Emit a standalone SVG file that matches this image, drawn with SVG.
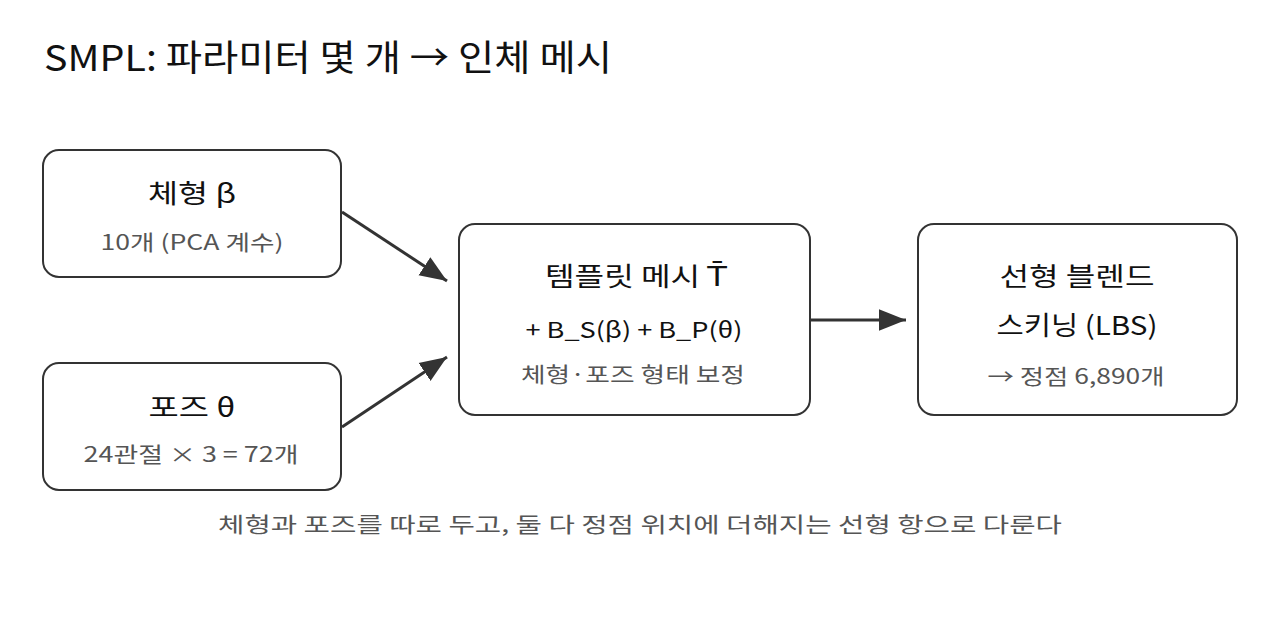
<svg xmlns="http://www.w3.org/2000/svg" width="1280" height="640" viewBox="0 0 1280 640">
<style>
text{font-family:"Noto Sans CJK KR","Noto Sans",sans-serif;text-anchor:middle}
.title{font-size:36px;fill:#111;text-anchor:start}
.main{font-size:26px;fill:#111}
.sub{font-size:21px;fill:#555}
.box{fill:#fff;stroke:#333;stroke-width:2}
.conn{stroke:#333;stroke-width:3;fill:none}
.tb{font-family:"DejaVu Sans",sans-serif}
</style>
<defs>
<marker id="arrow" viewBox="0 0 10 10" refX="10" refY="5" markerWidth="9" markerHeight="9" orient="auto">
<path d="M0,1 L10,5 L0,9 z" fill="#333"/>
</marker>
</defs>
<rect width="1280" height="640" fill="#fff"/>
<text class="title" x="44" y="71" textLength="568" lengthAdjust="spacingAndGlyphs">SMPL: 파라미터 몇 개 → 인체 메시</text>
<g id="connectors">
<line class="conn" x1="342" y1="212" x2="447" y2="281" marker-end="url(#arrow)"/>
<line class="conn" x1="342" y1="427" x2="447" y2="357" marker-end="url(#arrow)"/>
<line class="conn" x1="811" y1="320" x2="906" y2="320" marker-end="url(#arrow)"/>
</g>
<g id="shape">
<rect class="box" x="43" y="150" width="298" height="127" rx="16"/>
<text class="main" x="192" y="203" textLength="88" lengthAdjust="spacingAndGlyphs">체형 β</text>
<text class="sub" x="192" y="250" textLength="183" lengthAdjust="spacingAndGlyphs">10개 (PCA 계수)</text>
</g>
<g id="pose">
<rect class="box" x="43" y="363" width="298" height="127" rx="16"/>
<text class="main" x="192" y="417" textLength="87" lengthAdjust="spacingAndGlyphs">포즈 θ</text>
<text class="sub" x="191" y="462" textLength="215" lengthAdjust="spacingAndGlyphs">24관절 × 3 = 72개</text>
</g>
<g id="template">
<rect class="box" x="459" y="224" width="351" height="191" rx="16"/>
<text class="main" x="636" y="286" textLength="182" lengthAdjust="spacingAndGlyphs">템플릿 메시 <tspan class="tb">T̄</tspan></text>
<text class="sub" x="634" y="338" textLength="217" lengthAdjust="spacingAndGlyphs" style="fill:#111;font-size:22px">+ B_S(β) + B_P(θ)</text>
<text class="sub" x="633" y="382" textLength="224" lengthAdjust="spacingAndGlyphs">체형·포즈 형태 보정</text>
</g>
<g id="lbs">
<rect class="box" x="918" y="224" width="319" height="191" rx="16"/>
<text class="main" x="1077" y="286" textLength="155" lengthAdjust="spacingAndGlyphs">선형 블렌드</text>
<text class="main" x="1077" y="335" textLength="161" lengthAdjust="spacingAndGlyphs">스키닝 (LBS)</text>
<text class="sub" x="1076" y="384" textLength="177" lengthAdjust="spacingAndGlyphs">→ 정점 6,890개</text>
</g>
<text class="sub" x="640" y="532" textLength="844" lengthAdjust="spacingAndGlyphs">체형과 포즈를 따로 두고, 둘 다 정점 위치에 더해지는 선형 항으로 다룬다</text>
</svg>
